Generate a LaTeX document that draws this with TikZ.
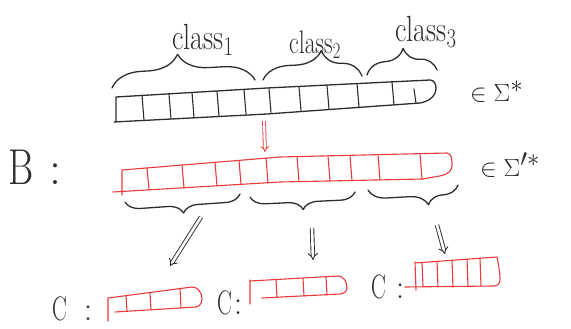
\documentclass[tikz,border=0pt]{standalone}
\usetikzlibrary{decorations.pathreplacing,arrows.meta}
\definecolor{inkc}{RGB}{45,45,45}
\definecolor{redc}{RGB}{232,58,58}
\begin{document}
\begin{tikzpicture}[x=1pt,y=-1pt,
  ink/.style={draw=inkc, line width=1.3pt, line cap=round, line join=round},
  redink/.style={draw=redc, line width=1.1pt, line cap=round, line join=round},
  bracetop/.style 2 args={ink, decorate, decoration={brace, amplitude=#1, aspect=#2}},
  bracebot/.style 2 args={ink, decorate, decoration={brace, mirror, amplitude=#1, aspect=#2}},
  dblarrow/.style={draw=inkc, double, double distance=2.6pt, line width=0.9pt, -{Implies}},
  reddbl/.style={draw=redc, double, double distance=2.2pt, line width=0.8pt, -{Implies}},
  lbl/.style={text=inkc, inner sep=0pt},
]
\useasboundingbox (0,0) rectangle (571,329);

% ---------- black tape ----------
\draw[ink] (116,97) -- (116,122) (116,97) -- (267,88) -- (430,80)
  to[out=0,in=90] (436,88) to[out=-90,in=10] (420,103) -- (267,114) -- (114,122);
\foreach \x/\a/\b in {143/95.5/120.3,170/94.1/118.7,193/92.8/117.2,218/91.4/115.7,
  245/89.9/114.0,270/88.7/112.4,300/87.0/110.5,328/85.5/108.8,358/83.9/106.9,
  393/82.0/104.7,415/89/103.3}
  \draw[ink, line width=1.1pt] (\x-1,\a) -- (\x+1,\b);
\coordinate (tapeB) at (265,114);

% braces above
\draw[bracetop={30pt}{0.47}] (112,88) -- (255,80);
\draw[bracetop={27pt}{0.6}] (263,80) -- (362,76);
\draw[bracetop={24pt}{0.54}] (367,75) -- (437,70);
\node[lbl, font=\fontsize{28}{30}\selectfont] (c1) at (203,40) {\scalebox{1}[1.3]{class$_1$}};
\node[lbl, font=\fontsize{25}{28}\selectfont] (c2) at (315,45) {\scalebox{0.95}[1.3]{class$_2$}};
\node[lbl, font=\fontsize{28}{30}\selectfont] (c3) at (426,32) {\scalebox{1}[1.3]{class$_3$}};

\node[lbl, anchor=base west, font=\fontsize{38}{40}\selectfont] (sig) at (470,102) {$\in \Sigma^{*}$};

% ---------- B ----------
\node[lbl, anchor=base west, font=\fontsize{48}{50}\selectfont] (B) at (8,184) {\scalebox{0.8}[1.05]{B}\hspace{16pt}:};

% ---------- red tape ----------
\draw[redink] (122,170) -- (122,195) (122,170) -- (280,157) -- (447,153)
  to[out=-10,in=90] (452,165) to[out=-90,in=15] (423,179) -- (280,182) -- (113,192);
\foreach \x/\a/\b in {148/167.9/189.9,183/165.0/187.8,216/162.3/185.8,240/160.3/184.4,
  267/158.1/182.8,298/156.6/181.6,329/155.8/181.0,351/155.3/180.5,379/154.6/179.9,
  421/153.6/179.0}
  \draw[redink] (\x-1,\a) -- (\x+1,\b);
\coordinate (tapeR) at (265,152);
\draw[reddbl] (264,121) -- (tapeR);

\node[lbl, anchor=base west, font=\fontsize{38}{40}\selectfont] (sig2) at (480,176) {$\in \Sigma'^{*}$};

% braces below
\draw[bracebot={15pt}{0.5}] (125,202) -- (240,194);
\draw[bracebot={15pt}{0.5}] (250,197) -- (355,192);
\draw[bracebot={18pt}{0.66}] (368,190) -- (458,185);

% ---------- arrows ----------
\coordinate (a1s) at (201,217);
\coordinate (a1e) at (170,266);
\coordinate (a2s) at (312,228);
\coordinate (a2e) at (313,260);
\coordinate (a3s) at (437,225);
\coordinate (a3e) at (445,254);
\draw[dblarrow] (a1s) -- (a1e);
\draw[dblarrow] (a2s) -- (a2e);
\draw[dblarrow] (a3s) -- (a3e);

% ---------- C1 ----------
\node[lbl, anchor=base west, font=\fontsize{34}{36}\selectfont] (C1) at (52,320) {\scalebox{0.65}[1]{C}\hspace{17pt}:};
\draw[redink] (108,298) -- (108,321) (108,298) -- (192,287)
  to[out=0,in=90] (202,299) to[out=-90,in=10] (196,307) -- (115,312);
\foreach \x/\a/\b in {126/295.6/311,150/292.5/309.5,180/288.6/308}
  \draw[redink] (\x,\a) -- (\x+1,\b);

% ---------- C2 ----------
\node[lbl, anchor=base west, font=\fontsize{34}{36}\selectfont] (C2) at (217,314) {\scalebox{0.65}[1]{C}\hspace{2pt}:};
\draw[redink] (250,280) -- (250,304) (250,281) -- (338,276)
  to[out=0,in=90] (347,288) to[out=-90,in=5] (340,294) -- (262,298);
\foreach \x/\a/\b in {276/280.3/297,303/278.4/296,326/276.8/295}
  \draw[redink] (\x,\a) -- (\x+1,\b);

% ---------- C3 ----------
\node[lbl, anchor=base west, font=\fontsize{34}{36}\selectfont] (C3) at (371,298) {\scalebox{0.65}[1]{C}\hspace{10pt}:};
\draw[redink] (415,262) -- (416,290) (415,263) -- (497,257)
  to[out=-80,in=90] (500,280) to[out=-90,in=0] (494,286) -- (405,287);
\foreach \x/\a/\b in {422/262.5/286,437/261.4/287,452/260.3/287,467/259.2/286,480/258.3/286}
  \draw[redink] (\x,\a) -- (\x+1,\b);
\end{tikzpicture}
\end{document}
